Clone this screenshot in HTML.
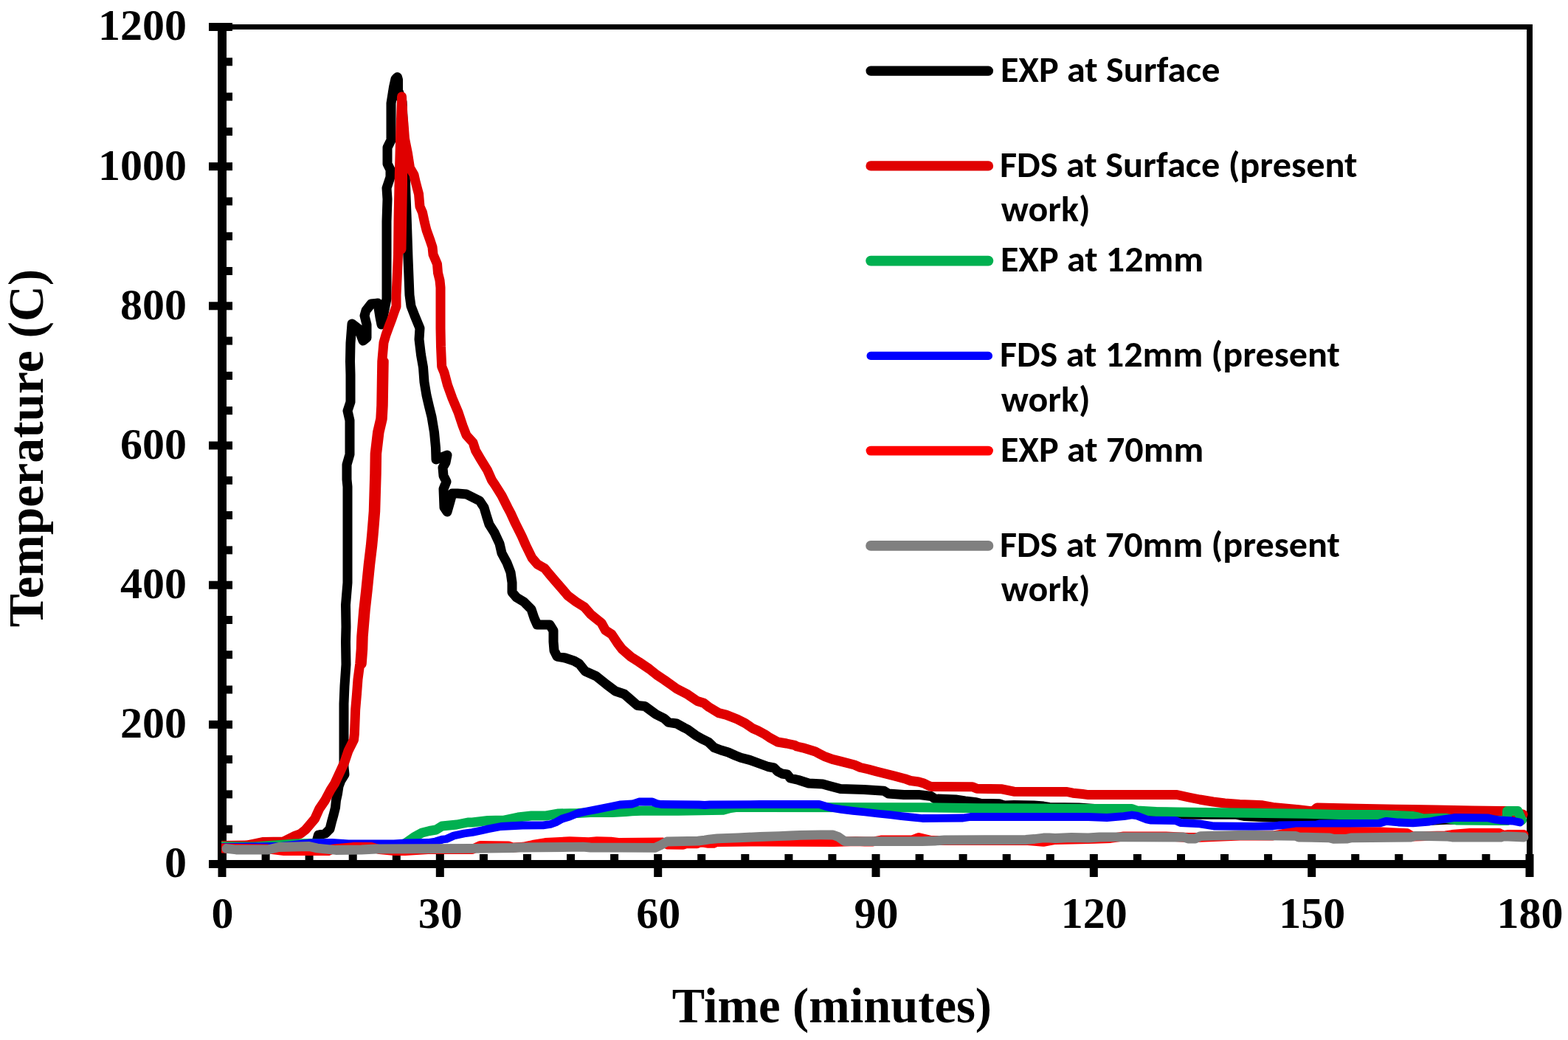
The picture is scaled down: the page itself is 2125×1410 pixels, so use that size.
<!DOCTYPE html>
<html><head><meta charset="utf-8"><title>Temperature vs Time</title>
<style>html,body{margin:0;padding:0;background:#fff;width:2125px;height:1410px;overflow:hidden}svg{display:block}</style>
</head><body>
<svg width="2125" height="1410" viewBox="0 0 2125 1410">
<rect x="0" y="0" width="2125" height="1410" fill="#fff"/>
<rect x="295" y="33" width="1782" height="7" fill="#000"/>
<rect x="2069" y="33" width="8" height="1144" fill="#000"/>
<rect x="295" y="31" width="12" height="1146" fill="#000"/>
<rect x="295" y="1166" width="1782" height="11" fill="#000"/>
<rect x="283" y="1166.0" width="32" height="11" fill="#000"/>
<rect x="307" y="1118.7" width="8" height="11" fill="#000"/>
<rect x="307" y="1071.4" width="8" height="11" fill="#000"/>
<rect x="307" y="1024.1" width="8" height="11" fill="#000"/>
<rect x="283" y="976.8" width="32" height="11" fill="#000"/>
<rect x="307" y="929.5" width="8" height="11" fill="#000"/>
<rect x="307" y="882.2" width="8" height="11" fill="#000"/>
<rect x="307" y="835.0" width="8" height="11" fill="#000"/>
<rect x="283" y="787.7" width="32" height="11" fill="#000"/>
<rect x="307" y="740.4" width="8" height="11" fill="#000"/>
<rect x="307" y="693.1" width="8" height="11" fill="#000"/>
<rect x="307" y="645.8" width="8" height="11" fill="#000"/>
<rect x="283" y="598.5" width="32" height="11" fill="#000"/>
<rect x="307" y="551.2" width="8" height="11" fill="#000"/>
<rect x="307" y="503.9" width="8" height="11" fill="#000"/>
<rect x="307" y="456.6" width="8" height="11" fill="#000"/>
<rect x="283" y="409.3" width="32" height="11" fill="#000"/>
<rect x="307" y="362.0" width="8" height="11" fill="#000"/>
<rect x="307" y="314.8" width="8" height="11" fill="#000"/>
<rect x="307" y="267.5" width="8" height="11" fill="#000"/>
<rect x="283" y="220.2" width="32" height="11" fill="#000"/>
<rect x="307" y="172.9" width="8" height="11" fill="#000"/>
<rect x="307" y="125.6" width="8" height="11" fill="#000"/>
<rect x="307" y="78.3" width="8" height="11" fill="#000"/>
<rect x="283" y="31.0" width="32" height="11" fill="#000"/>
<rect x="295.5" y="1158" width="11" height="31" fill="#000"/>
<rect x="354.6" y="1158" width="11" height="8" fill="#000"/>
<rect x="413.6" y="1158" width="11" height="8" fill="#000"/>
<rect x="472.7" y="1158" width="11" height="8" fill="#000"/>
<rect x="531.8" y="1158" width="11" height="8" fill="#000"/>
<rect x="590.8" y="1158" width="11" height="31" fill="#000"/>
<rect x="649.9" y="1158" width="11" height="8" fill="#000"/>
<rect x="709.0" y="1158" width="11" height="8" fill="#000"/>
<rect x="768.0" y="1158" width="11" height="8" fill="#000"/>
<rect x="827.1" y="1158" width="11" height="8" fill="#000"/>
<rect x="886.2" y="1158" width="11" height="31" fill="#000"/>
<rect x="945.2" y="1158" width="11" height="8" fill="#000"/>
<rect x="1004.3" y="1158" width="11" height="8" fill="#000"/>
<rect x="1063.4" y="1158" width="11" height="8" fill="#000"/>
<rect x="1122.4" y="1158" width="11" height="8" fill="#000"/>
<rect x="1181.5" y="1158" width="11" height="31" fill="#000"/>
<rect x="1240.6" y="1158" width="11" height="8" fill="#000"/>
<rect x="1299.6" y="1158" width="11" height="8" fill="#000"/>
<rect x="1358.7" y="1158" width="11" height="8" fill="#000"/>
<rect x="1417.8" y="1158" width="11" height="8" fill="#000"/>
<rect x="1476.8" y="1158" width="11" height="31" fill="#000"/>
<rect x="1535.9" y="1158" width="11" height="8" fill="#000"/>
<rect x="1595.0" y="1158" width="11" height="8" fill="#000"/>
<rect x="1654.0" y="1158" width="11" height="8" fill="#000"/>
<rect x="1713.1" y="1158" width="11" height="8" fill="#000"/>
<rect x="1772.2" y="1158" width="11" height="31" fill="#000"/>
<rect x="1831.2" y="1158" width="11" height="8" fill="#000"/>
<rect x="1890.3" y="1158" width="11" height="8" fill="#000"/>
<rect x="1949.4" y="1158" width="11" height="8" fill="#000"/>
<rect x="2008.4" y="1158" width="11" height="8" fill="#000"/>
<rect x="2067.5" y="1158" width="11" height="31" fill="#000"/>
<text x="253" y="1189.3" text-anchor="end" style="font-family:&quot;Liberation Serif&quot;,&quot;Times New Roman&quot;,serif;font-weight:bold;font-size:60px">0</text>
<text x="253" y="1000.1" text-anchor="end" style="font-family:&quot;Liberation Serif&quot;,&quot;Times New Roman&quot;,serif;font-weight:bold;font-size:60px">200</text>
<text x="253" y="811.0" text-anchor="end" style="font-family:&quot;Liberation Serif&quot;,&quot;Times New Roman&quot;,serif;font-weight:bold;font-size:60px">400</text>
<text x="253" y="621.8" text-anchor="end" style="font-family:&quot;Liberation Serif&quot;,&quot;Times New Roman&quot;,serif;font-weight:bold;font-size:60px">600</text>
<text x="253" y="432.6" text-anchor="end" style="font-family:&quot;Liberation Serif&quot;,&quot;Times New Roman&quot;,serif;font-weight:bold;font-size:60px">800</text>
<text x="253" y="243.5" text-anchor="end" style="font-family:&quot;Liberation Serif&quot;,&quot;Times New Roman&quot;,serif;font-weight:bold;font-size:60px">1000</text>
<text x="253" y="54.3" text-anchor="end" style="font-family:&quot;Liberation Serif&quot;,&quot;Times New Roman&quot;,serif;font-weight:bold;font-size:60px">1200</text>
<text x="301.5" y="1258" text-anchor="middle" style="font-family:&quot;Liberation Serif&quot;,&quot;Times New Roman&quot;,serif;font-weight:bold;font-size:60px">0</text>
<text x="596.8" y="1258" text-anchor="middle" style="font-family:&quot;Liberation Serif&quot;,&quot;Times New Roman&quot;,serif;font-weight:bold;font-size:60px">30</text>
<text x="892.2" y="1258" text-anchor="middle" style="font-family:&quot;Liberation Serif&quot;,&quot;Times New Roman&quot;,serif;font-weight:bold;font-size:60px">60</text>
<text x="1187.5" y="1258" text-anchor="middle" style="font-family:&quot;Liberation Serif&quot;,&quot;Times New Roman&quot;,serif;font-weight:bold;font-size:60px">90</text>
<text x="1482.8" y="1258" text-anchor="middle" style="font-family:&quot;Liberation Serif&quot;,&quot;Times New Roman&quot;,serif;font-weight:bold;font-size:60px">120</text>
<text x="1778.2" y="1258" text-anchor="middle" style="font-family:&quot;Liberation Serif&quot;,&quot;Times New Roman&quot;,serif;font-weight:bold;font-size:60px">150</text>
<text x="2073.5" y="1258" text-anchor="middle" style="font-family:&quot;Liberation Serif&quot;,&quot;Times New Roman&quot;,serif;font-weight:bold;font-size:60px">180</text>
<text transform="translate(1127.4,1386) scale(0.9935,1)" x="0" y="0" text-anchor="middle" style="font-family:&quot;Liberation Serif&quot;,&quot;Times New Roman&quot;,serif;font-weight:bold;font-size:67px">Time (minutes)</text>
<text transform="translate(58,607.5) rotate(-90) scale(1.008,1)" x="0" y="0" text-anchor="middle" style="font-family:&quot;Liberation Serif&quot;,&quot;Times New Roman&quot;,serif;font-weight:bold;font-size:67px">Temperature (C)</text>
<clipPath id="pa"><rect x="300" y="36.5" width="1772" height="1135"/></clipPath>
<g clip-path="url(#pa)" fill="none" stroke-linejoin="round" stroke-linecap="round">
<polyline points="300,1148 427,1148 431.5,1132 441,1130 447,1124 449.5,1114 452,1105 454.5,1095 455.5,1085 457.5,1076 459,1066 462,1058 467,1050 466,1040 466,1000 466,954 467,930 469,901 468.5,870 469,850 468.5,820 471,790 471,721 471,700 471,660 470,650 470,630 474,616 474,600 474,570 471,557 475,545 475,508 474.5,490 475,465 477,439 486,446 492,462 497,458 497,440 494,428 496,421 503,412 512,411 515,430 517,440 520,425 524,405 524,300 525,270 524,255 529,240 529,230 525,222 525,200 530,190 530,140 533.5,118 536,107 538.5,104.5 539.5,108 539.5,122 545,138 547,180 549,230 550,265 551,290 553,350 555,400 557,415 562,428 569,445 568,460 570.5,481 573.5,498 575,518 578,536 581.5,551 585,565 588.5,586 590.5,607 591,623 606,617 604,627 600,634 601,645 605,653 601,663 602,688 606,694 610,680 613,669 620,669 632,670 640,674 650,679 656,688 659.5,700 663,711 670,722 677,737 680,750 687,763 692,776 694,790 694,803 700,810 710,816 720,826 724,838 728,847 745,847 750,855 750,870 751,882 755,890 766,892 778,896 785,900 793,910 808,916.7 822,928 834,937 846,941 857,950.5 864,956.6 874,957.4 889,968.5 900,974 906,979.4 917,981 927,986.5 932,989 943,997 951,1001.7 960,1006 968,1013.7 977,1017 987,1020 997,1024.5 1004,1027.3 1016,1030.4 1030,1035.5 1041,1039.5 1049,1041 1054,1046 1060,1049 1067,1050 1071,1055 1082,1057.5 1096,1062 1115,1063 1122,1065 1139,1069.5 1171,1070.6 1198,1072.3 1204,1076 1225,1077.6 1245,1077.4 1262,1079.5 1267,1083 1295,1084 1308,1086 1323,1087.7 1329,1089.3 1354,1089.8 1361,1092 1374,1091.5 1401,1092 1414,1093.1 1422,1094.5 1462,1095 1540,1100.5 1596,1101.7 1604,1104.3 1676,1104.3 1686,1106.5 1711,1107.7 1725,1108.3 1790,1110 1870,1112 1915,1113.5 1960,1111.2 2010,1111.2 2062,1111.5" stroke="#000000" stroke-width="13"/>
<polyline points="300,1146.5 334,1146 344,1144 357,1141.5 384,1141 392,1137 400,1133 407,1130.5 414,1125 420,1118 426.7,1110 432.7,1096.6 440.6,1085 448,1071 453.6,1062.3 462.5,1043 467,1033 472,1018 479.5,1003 480.4,995 481,980 481.7,962 483.5,941 485,921 487.75,900 489.25,880 489.75,863 491.25,845 492.75,827 495.75,800 497.25,785 499.25,765 502.25,740 503.75,724 504.75,712 506.25,693 507.05,665 507.75,642 508.15,615 511.55,586 515.75,568 516.75,550 517.25,520 517.75,490 520,464.5 523,454 527,443 531,432.5 534.6,422 537,415.5 537,400 538,380 539.5,345 540,300 541.3,236 543,175 544.4,137 544.5,131 545.5,154 547,168 548.5,188 552.5,208 555.5,227.5 561,237 563,246 567.5,263 569,280 572.5,288 575.5,302 578,312 583,326 586,335 587,345 592.5,358 593.5,370 596,380 597,390 597,445 597.5,470 598.7,497 602,505 606.5,522 613,540 621,559 627,577 632,590 641,600 644.6,611 651,622 660.6,637.7 666.5,651 671,657.6 680,672 688,688 692,695.5 698.5,709.7 707,726.7 712.7,739.5 721,756.5 728.3,765 738.3,770.7 744,777.8 752.5,787.7 761,797.5 769.5,807.5 780.8,816 792,823 800.7,833 807.8,838.8 815,844.5 820.5,854.5 829,860 837.5,872.8 843,880 855,890.5 866,897.5 880,907 890,915 900,921.6 909,928 917,933.7 932,941.6 945,950.5 954,953.3 961,958.8 974,966.6 984,969.1 999,975 1010,980.6 1020,987.5 1027,990.5 1037,995.9 1043,1000 1054,1006 1066,1008 1077,1010.3 1080,1012 1088,1013.8 1097,1016.5 1105,1019 1111,1022.2 1117,1025.3 1128,1029.4 1140,1032.4 1158,1037 1166,1040.5 1177,1043 1188,1046 1199,1048.7 1212,1052 1226,1055.7 1234,1058.5 1245,1060 1252,1062 1258,1065 1262,1066.5 1318,1066.8 1324,1069.2 1358,1069.8 1374,1073.2 1446,1073.5 1454,1075.2 1467,1076.5 1475,1077.6 1595,1077.5 1611,1081 1626,1084 1644,1087 1660,1089 1680,1090.5 1700,1091.2 1711,1091.8 1725,1094.5 1760,1097.8 1779,1100 1785,1095 1839,1096.2 1892,1097.2 1915,1097.5 1945,1098 1995,1099 2042,1099.5 2064,1104" stroke="#E00000" stroke-width="13"/>
<polyline points="545.5,146 545.5,250 544,338" stroke="#E00000" stroke-width="13"/>
<polyline points="490.25,900 491.75,880 492.25,863 493.75,845 495.25,827 498.25,800 499.75,785 501.75,765 504.75,740 506.25,724 507.25,712 508.75,693 509.55,665 510.25,642 510.65,615 514.05,586 518.25,568 519.25,550 519.75,520 520.25,490" stroke="#E00000" stroke-width="13"/>
<polyline points="300,1147.5 344,1148 400,1144 420,1143.5 440,1144 460,1145.5 545,1145.5 551,1142 561,1135 572,1129 582,1126.5 591,1125 599,1120 619,1118 634,1115 640,1115 661,1112.5 683,1112 702,1108 720,1106 740,1106 757,1103 783,1102.5 800,1101.5 830,1101.5 848,1100.5 856,1099.7 875,1099 919,1099.2 980,1098.3 990,1095.5 997,1094.5 1030,1094.5 1250,1094.7 1325,1095.7 1400,1096 1475,1096.6 1534,1096.5 1541,1099 1567,1100.5 1595,1101 1632,1101.5 1695,1102.2 1770,1103.3 1815,1104.4 1869,1104.6 1915,1106.5 1921,1107.7 1929,1110 1947,1109.3 1960,1109.3 1975,1112 2042.5,1112.5 2042.5,1099.6 2057,1099.6 2062.5,1112" stroke="#00B050" stroke-width="13"/>
<polyline points="300,1148.5 378,1147.5 400,1145 419,1143 450,1142.5 472,1144 534,1144 550,1143 580,1142.5 590,1141 600,1138 605,1137.5 615,1133 629,1130 640,1128.5 652,1126 662,1123.8 679,1120.5 708,1119 736,1118.8 746,1117.5 753,1115 762,1110 772,1107 783,1102.6 795,1100 809,1097.4 828,1093.5 840,1091 857,1090 866,1087 884,1087 890,1089.5 896,1090.5 947,1091 955,1091.5 962,1091 1030,1090.5 1110,1090.3 1120,1093.5 1128,1095.5 1140,1097.3 1156,1099.3 1172,1101 1189,1103 1206,1104.7 1222,1106.6 1237,1108.2 1250,1109.5 1305,1109 1315,1107.5 1475,1107.5 1500,1108.5 1523,1106.7 1534,1105 1541,1106 1554,1111 1560,1112.2 1593,1112.5 1600,1115.5 1626,1116.8 1645,1120 1700,1120.4 1725,1120 1733,1119 1784,1118 1788,1117 1869,1116.2 1879,1113.3 1895,1115 1915,1115.8 1937,1114 1947,1112 1964,1109.7 1971,1108.5 2016,1108.8 2027,1111.2 2033,1112 2050,1113 2060,1115" stroke="#0000FF" stroke-width="10.8"/>
<polyline points="300,1150 320,1150.5 363,1151 385,1153.7 445,1153.7 451,1151 478,1148.5 503,1148.5 514,1151.7 535,1153.5 549,1153.5 580,1151.7 640,1151.6 643,1150 651,1146.4 689,1146.9 695,1149 709,1148.2 722,1145.4 739,1142.5 772,1140.7 798,1141.6 809,1140.7 828,1141.2 840,1142.5 898,1142 905,1145 926,1145.3 930,1143.8 945,1143.8 947,1142.4 954,1142.4 960,1143.4 967,1143.4 971,1141.5 1030,1141 1130,1141.7 1160,1140.5 1172,1141 1183,1141 1194,1139 1236,1139 1245,1135.5 1262,1139.5 1390,1139.3 1414,1141.4 1430,1138.5 1475,1137.5 1505,1136.5 1523,1133.8 1580,1133.8 1610,1135.5 1620,1135.5 1680,1133 1725,1133 1738,1130.7 1756,1128 1872,1128 1881,1128.5 1907,1129.6 1914,1134 1959,1132.8 1968,1131.5 1992,1129.5 2032,1129.5 2037,1132.3 2043,1131.5 2065,1131.5" stroke="#FF0000" stroke-width="12.8"/>
<polyline points="307,1150.5 320,1152 363,1152 378,1148.5 419,1147.5 430,1150 455,1152.5 490,1152 510,1151 640,1150.4 695,1149.5 704,1149 775,1148.4 790,1148.2 800,1149 840,1149.2 888,1149.3 896,1145.5 904,1141 946,1140.2 955,1139 961,1138 972,1136.8 1000,1135.8 1030,1134.5 1056,1133.7 1071,1133 1084,1132.3 1112,1131.9 1129,1132 1136,1134.5 1145,1140.7 1250,1140.7 1267,1140 1280,1139 1390,1138.5 1402,1137.5 1414,1136 1422,1136 1430,1136.5 1452,1135.5 1475,1136 1490,1135 1505,1134.8 1604,1135 1610,1137 1620,1137 1627,1133.6 1680,1132.4 1700,1132.5 1756,1133.4 1760,1135 1801,1135.8 1808,1137.4 1825,1137.2 1832,1135.8 1912,1135 1918,1133.4 1925,1133.4 1960,1134 1968,1135 2034,1135.2 2038,1133.8 2055,1134.5 2065,1135" stroke="#808080" stroke-width="12.8"/>
</g>
<line x1="1180" y1="96.1" x2="1339.5" y2="96.1" stroke="#000000" stroke-width="13.1" stroke-linecap="round"/>
<text x="1355.9" y="110.7" textLength="297.7" lengthAdjust="spacingAndGlyphs" style="font-family:Carlito,Calibri,&quot;Liberation Sans&quot;,sans-serif;font-weight:bold;font-size:49px">EXP at Surface</text>
<line x1="1180" y1="224.9" x2="1339.5" y2="224.9" stroke="#E00000" stroke-width="13.3" stroke-linecap="round"/>
<text x="1354.9" y="239.5" textLength="484.6" lengthAdjust="spacingAndGlyphs" style="font-family:Carlito,Calibri,&quot;Liberation Sans&quot;,sans-serif;font-weight:bold;font-size:49px">FDS at Surface (present</text>
<text x="1356.8" y="300.4" textLength="120.7" lengthAdjust="spacingAndGlyphs" style="font-family:Carlito,Calibri,&quot;Liberation Sans&quot;,sans-serif;font-weight:bold;font-size:49px">work)</text>
<line x1="1180" y1="353.6" x2="1339.5" y2="353.6" stroke="#00B050" stroke-width="13.6" stroke-linecap="round"/>
<text x="1355.9" y="368.2" textLength="275.2" lengthAdjust="spacingAndGlyphs" style="font-family:Carlito,Calibri,&quot;Liberation Sans&quot;,sans-serif;font-weight:bold;font-size:49px">EXP at 12mm</text>
<line x1="1180" y1="482.4" x2="1339.5" y2="482.4" stroke="#0000FF" stroke-width="11.1" stroke-linecap="round"/>
<text x="1354.9" y="497.0" textLength="461.0" lengthAdjust="spacingAndGlyphs" style="font-family:Carlito,Calibri,&quot;Liberation Sans&quot;,sans-serif;font-weight:bold;font-size:49px">FDS at 12mm (present</text>
<text x="1356.8" y="557.9" textLength="120.7" lengthAdjust="spacingAndGlyphs" style="font-family:Carlito,Calibri,&quot;Liberation Sans&quot;,sans-serif;font-weight:bold;font-size:49px">work)</text>
<line x1="1180" y1="611.1" x2="1339.5" y2="611.1" stroke="#FF0000" stroke-width="12.9" stroke-linecap="round"/>
<text x="1355.9" y="625.7" textLength="275.3" lengthAdjust="spacingAndGlyphs" style="font-family:Carlito,Calibri,&quot;Liberation Sans&quot;,sans-serif;font-weight:bold;font-size:49px">EXP at 70mm</text>
<line x1="1180" y1="739.9" x2="1339.5" y2="739.9" stroke="#808080" stroke-width="13.6" stroke-linecap="round"/>
<text x="1354.9" y="754.5" textLength="461.0" lengthAdjust="spacingAndGlyphs" style="font-family:Carlito,Calibri,&quot;Liberation Sans&quot;,sans-serif;font-weight:bold;font-size:49px">FDS at 70mm (present</text>
<text x="1356.8" y="815.4" textLength="120.7" lengthAdjust="spacingAndGlyphs" style="font-family:Carlito,Calibri,&quot;Liberation Sans&quot;,sans-serif;font-weight:bold;font-size:49px">work)</text>
</svg>
</body></html>
